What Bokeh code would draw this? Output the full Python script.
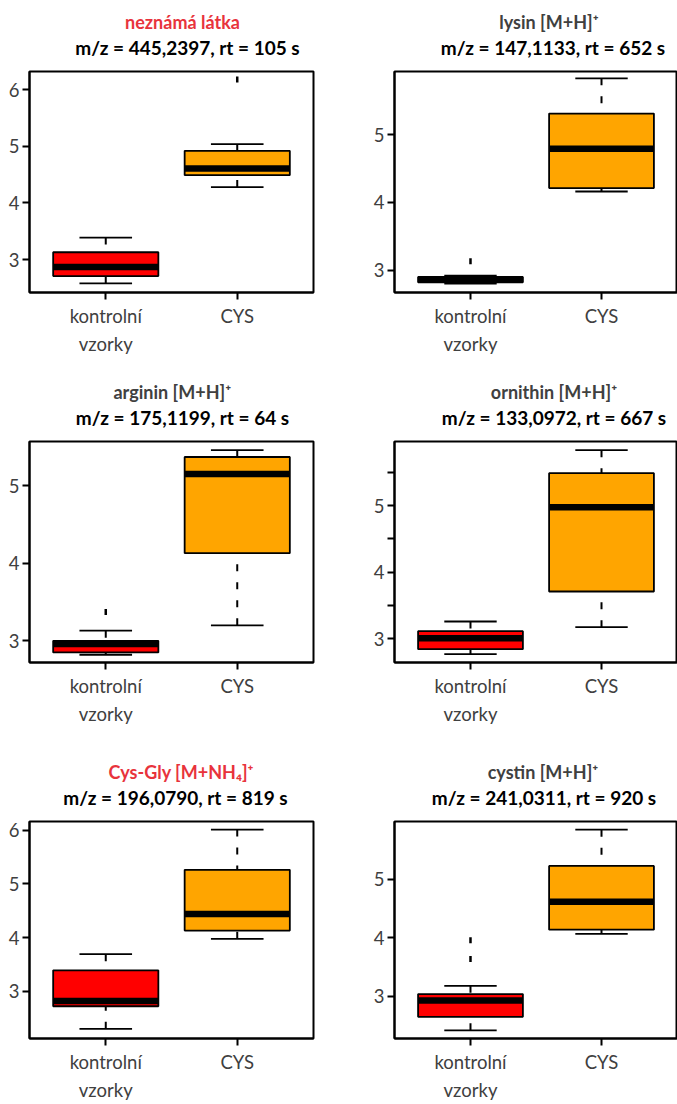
from bokeh.plotting import figure
from bokeh.layouts import column, row
from bokeh.models import Range1d, FixedTicker
from bokeh.core.properties import value
from bokeh.embed import file_html
from bokeh.resources import INLINE
import math

# ---------------- data ----------------
categories = ["kontrolní\nvzorky", "CYS"]
title_top = ["neznámá látka", "lysin [M+H]⁺", "arginin  [M+H]⁺",
             "ornithin [M+H]⁺", "Cys-Gly  [M+NH₄]⁺", "cystin [M+H]⁺"]
title_bottom = ["m/z = 445,2397, rt = 105 s", "m/z = 147,1133, rt = 652 s",
                "m/z = 175,1199, rt = 64 s", "m/z = 133,0972, rt = 667 s",
                "m/z = 196,0790, rt = 819 s", "m/z = 241,0311, rt = 920 s"]

ctrl_low = [2.58, 2.80, 2.82, 2.77, 2.30, 2.42]
ctrl_q1 = [2.71, 2.82, 2.85, 2.845, 2.72, 2.65]
ctrl_med = [2.87, 2.86, 2.96, 3.01, 2.82, 2.93]
ctrl_q3 = [3.13, 2.90, 3.00, 3.115, 3.39, 3.04]
ctrl_high = [3.39, 2.92, 3.13, 3.26, 3.69, 3.18]
ctrl_out = [[], [3.13], [3.37], [], [], [3.64, 3.96]]

cys_low = [4.28, 4.16, 3.20, 3.175, 3.975, 4.07]
cys_q1 = [4.49, 4.21, 4.13, 3.71, 4.13, 4.14]
cys_med = [4.61, 4.79, 5.15, 4.975, 4.44, 4.62]
cys_q3 = [4.92, 5.31, 5.37, 5.485, 5.26, 5.23]
cys_high = [5.04, 5.83, 5.46, 5.83, 6.01, 5.85]
cys_out = [[6.18], [], [], [], [], []]

y_lo = [2.42, 2.67, 2.72, 2.645, 2.12, 2.28]
y_hi = [6.32, 5.93, 5.57, 5.96, 6.16, 5.99]
y_ticks = [[3, 4, 5, 6], [3, 4, 5], [3, 4, 5],
           [3, 3.5, 4, 4.5, 5, 5.5], [3, 4, 5, 6], [3, 4, 5]]

title_red = [True, False, False, False, True, False]

# ---------------- style / layout ----------------
FONT = "Lato"
TXT = "#404040"
RED_T = "#e8333c"
BOX_COLORS = ["#ff0000", "#ffa500"]
PAGE_W = 677
ROW_H = [370, 380, 354]
ROW_BOTTOM = [78, 88, 62]
HEAD_H = 69                       # height of the title strip above each row
X0, X1 = 0.42, 2.58
W = [338, 339]                    # figure widths, left / right column
BL = [29, 56]                     # left borders
BR = [25, 0]                      # right borders
OFF1 = [11, 13, 3, 18, 12, 7]     # px shift of title line 1 centre from frame centre
OFF2 = [16, 17, 11, 18, 4, 8]     # px shift of title line 2 centre
Y1 = 21                           # px from top: centre of title line 1
Y2 = 47                           # px from top: centre of title line 2


def frame_centre(col):
    start = 0 if col == 0 else W[0]
    return start + BL[col] + (W[col] - BL[col] - BR[col]) / 2


def make_head(r):
    h = figure(width=PAGE_W, height=HEAD_H, output_backend="svg",
               toolbar_location=None, tools="", title=None,
               x_range=Range1d(0, PAGE_W), y_range=Range1d(HEAD_H, 0),
               x_axis_location=None, y_axis_location=None,
               min_border=0, min_border_left=0, min_border_right=0,
               min_border_top=0, min_border_bottom=0)
    h.outline_line_color = None
    h.xgrid.visible = False
    h.ygrid.visible = False
    h.background_fill_color = "white"
    h.border_fill_color = "white"
    for col in (0, 1):
        i = 2 * r + col
        cx = frame_centre(col)
        h.text(x=[cx + OFF1[i]], y=[Y1], text=[title_top[i]],
               text_align="center", text_baseline="middle",
               text_font=value(FONT), text_font_size="18px",
               text_font_style="bold",
               text_color=RED_T if title_red[i] else TXT)
        h.text(x=[cx + OFF2[i]], y=[Y2], text=[title_bottom[i]],
               text_align="center", text_baseline="middle",
               text_font=value(FONT), text_font_size="19px",
               text_font_style="bold", text_color="black")
    return h


def make_panel(i):
    col = i % 2
    r = i // 2
    p = figure(width=W[col], height=ROW_H[r] - HEAD_H, output_backend="svg",
               toolbar_location=None, tools="", title=None,
               x_range=Range1d(X0, X1),
               y_range=Range1d(y_lo[i], y_hi[i]),
               min_border_left=BL[col], min_border_right=BR[col],
               min_border_top=71 - HEAD_H, min_border_bottom=ROW_BOTTOM[r])
    p.background_fill_color = "white"
    p.border_fill_color = "white"
    p.outline_line_color = "black"
    p.outline_line_width = 2
    p.xgrid.visible = False
    p.ygrid.visible = False

    for ax in (p.xaxis[0], p.yaxis[0]):
        ax.axis_line_color = "black"
        ax.axis_line_width = 2
        ax.major_tick_line_color = "black"
        ax.major_tick_line_width = 2
        ax.major_tick_out = 7
        ax.major_tick_in = 0
        ax.minor_tick_line_color = None
        ax.major_label_text_font = FONT
        ax.major_label_text_font_size = "18.5px"
        ax.major_label_text_color = TXT
    p.xaxis.ticker = FixedTicker(ticks=[1, 2])
    p.xaxis.major_label_overrides = {1: categories[0], 2: categories[1]}
    p.xaxis.major_label_standoff = 5
    p.xaxis[0].major_label_text_line_height = 1.3
    p.yaxis.ticker = FixedTicker(ticks=y_ticks[i])
    p.yaxis.major_label_overrides = {t: ("" if t != int(t) else str(int(t)))
                                     for t in y_ticks[i]}
    p.yaxis.major_label_standoff = 3

    xs = [1, 2]
    lows = [ctrl_low[i], cys_low[i]]
    q1s = [ctrl_q1[i], cys_q1[i]]
    meds = [ctrl_med[i], cys_med[i]]
    q3s = [ctrl_q3[i], cys_q3[i]]
    highs = [ctrl_high[i], cys_high[i]]
    bw = 0.8
    cw = 0.4

    # whiskers (dashed), starting at the caps
    p.segment(x0=xs, y0=highs, x1=xs, y1=q3s, line_color="black",
              line_width=2, line_dash="7 11")
    p.segment(x0=xs, y0=lows, x1=xs, y1=q1s, line_color="black",
              line_width=2, line_dash="7 11")
    # caps
    p.segment(x0=[x - cw / 2 for x in xs], y0=highs,
              x1=[x + cw / 2 for x in xs], y1=highs,
              line_color="black", line_width=1.8)
    p.segment(x0=[x - cw / 2 for x in xs], y0=lows,
              x1=[x + cw / 2 for x in xs], y1=lows,
              line_color="black", line_width=1.8)
    # boxes
    p.quad(left=[x - bw / 2 for x in xs], right=[x + bw / 2 for x in xs],
           bottom=q1s, top=q3s, fill_color=BOX_COLORS,
           line_color="black", line_width=1.8)
    # medians
    p.segment(x0=[x - bw / 2 for x in xs], y0=meds,
              x1=[x + bw / 2 for x in xs], y1=meds,
              line_color="black", line_width=6.5)
    # outliers
    ox = [1] * len(ctrl_out[i]) + [2] * len(cys_out[i])
    oy = ctrl_out[i] + cys_out[i]
    if oy:
        p.scatter(x=ox, y=oy, marker="dash", angle=math.pi / 2, size=6,
                  line_color="black", line_width=2.5)
    return p


panels = [make_panel(i) for i in range(6)]
layout = column(make_head(0), row(panels[0], panels[1]),
                make_head(1), row(panels[2], panels[3]),
                make_head(2), row(panels[4], panels[5]))

open("out.html", "w").write(file_html(layout, INLINE))
